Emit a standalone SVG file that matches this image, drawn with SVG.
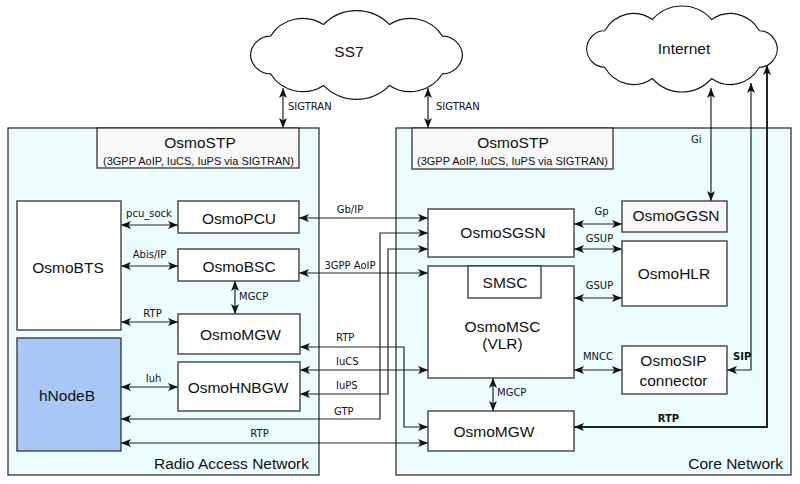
<svg xmlns="http://www.w3.org/2000/svg" width="800" height="484" viewBox="0 0 800 484">
<style>
.region{fill:#ebfdfe;stroke:#333;stroke-width:1.3}
.box{fill:#fff;stroke:#333;stroke-width:1.3}
.stp{fill:#f8f8f8;stroke:#333;stroke-width:1.3}
.hnb{fill:#a9c8f8;stroke:#333;stroke-width:1.3}
.cloud{fill:#fff;stroke:#111;stroke-width:1.2}
.n{font-family:"Liberation Sans",Arial,sans-serif;font-size:15.5px;fill:#111;text-anchor:middle}
.sub{font-family:"Liberation Sans",Arial,sans-serif;font-size:11px;fill:#111;text-anchor:middle}
.rl{font-family:"Liberation Sans",Arial,sans-serif;font-size:15.5px;fill:#111;text-anchor:end}
.l{font-family:"DejaVu Sans",sans-serif;font-size:10px;fill:#111}
.m{text-anchor:middle}
.b{font-weight:bold}
.c{fill:none;stroke:#222;stroke-width:1.2;marker-start:url(#ah);marker-end:url(#ah)}
.thick{stroke-width:2}
</style>
<defs>
<marker id="ah" markerUnits="userSpaceOnUse" markerWidth="11" markerHeight="9" refX="10" refY="4" orient="auto-start-reverse" viewBox="0 0 11 8">
<path d="M0,0 L10,4 L0,8 L2.5,4 z" fill="#111"/>
</marker>
<path id="cloudshape" d="M-106,0 A20,20 0 0 1 -86,-18.8 A38,38 0 0 1 -33,-30.4 A46,46 0 0 1 33,-30.4 A38,38 0 0 1 86,-18.8 A20,20 0 0 1 106,0 A20,20 0 0 1 86,18.8 A38,38 0 0 1 33,30.4 A46,46 0 0 1 -33,30.4 A38,38 0 0 1 -86,18.8 A20,20 0 0 1 -106,0 Z"/>
</defs>

<g id="regions">
<rect class="region" x="8" y="128" width="311" height="347"/>
<rect class="region" x="396" y="128" width="395" height="347"/>
<text class="rl" x="309" y="469">Radio Access Network</text>
<text class="rl" x="783" y="469">Core Network</text>
</g>

<g id="ss7">
<use href="#cloudshape" class="cloud" transform="translate(356.5,55)" vector-effect="non-scaling-stroke"/>
<text class="n" x="349" y="57">SS7</text>
</g>
<g id="internet">
<use href="#cloudshape" class="cloud" transform="translate(682,49) scale(0.9,0.97)"/>
<text class="n" x="684" y="54">Internet</text>
</g>

<g id="connectors">
<path class="c" d="M283,88 V128"/>
<path class="c" d="M428,88 V128"/>
<path class="c" d="M711,88 V201"/>
<path class="c" d="M751,83 V370 H727"/>
<path class="c thick" d="M767,65 V427 H574"/>
<path class="c" d="M121,225 H178"/>
<path class="c" d="M121,266 H178"/>
<path class="c" d="M121,322 H178"/>
<path class="c" d="M235,281 V314"/>
<path class="c" d="M121,387 H178"/>
<path class="c" d="M299,218 H428"/>
<path class="c" d="M299,273 H428"/>
<path class="c" d="M300,347 H404 V427 H428"/>
<path class="c" d="M300,370 H428"/>
<path class="c" d="M300,394 H388 V249 H428"/>
<path class="c" d="M121,419 H380 V233 H428"/>
<path class="c" d="M121,443 H428"/>
<path class="c" d="M574,224 H622"/>
<path class="c" d="M574,249 H622"/>
<path class="c" d="M574,298 H622"/>
<path class="c" d="M574,370 H622"/>
<path class="c" d="M493,378 V411"/>
<text class="l" x="288" y="110">SIGTRAN</text>
<text class="l" x="436" y="110">SIGTRAN</text>
<text class="l" x="691" y="143">Gi</text>
<text class="l b" x="733" y="360">SIP</text>
<text class="l b m" x="668.5" y="422">RTP</text>
<text class="l m" x="149" y="217">pcu_sock</text>
<text class="l m" x="149.5" y="258">Abis/IP</text>
<text class="l m" x="152.5" y="317">RTP</text>
<text class="l" x="239" y="300">MGCP</text>
<text class="l m" x="153.5" y="382">Iuh</text>
<text class="l m" x="350" y="213">Gb/IP</text>
<text class="l m" x="350" y="269">3GPP AoIP</text>
<text class="l" x="336" y="341">RTP</text>
<text class="l" x="336" y="365">IuCS</text>
<text class="l" x="336" y="389">IuPS</text>
<text class="l" x="334" y="415">GTP</text>
<text class="l m" x="259.5" y="437">RTP</text>
<text class="l m" x="601.5" y="215">Gp</text>
<text class="l m" x="599.5" y="242">GSUP</text>
<text class="l m" x="599.5" y="289">GSUP</text>
<text class="l m" x="598" y="360">MNCC</text>
<text class="l" x="497" y="396">MGCP</text>
</g>

<g id="stp-ran">
<rect class="stp" x="97" y="128" width="202" height="40"/>
<text class="n" x="200" y="148">OsmoSTP</text>
<text class="sub" x="198.5" y="165">(3GPP AoIP, IuCS, IuPS via SIGTRAN)</text>
</g>
<g id="stp-cn">
<rect class="stp" x="412" y="128" width="201" height="41"/>
<text class="n" x="513" y="148">OsmoSTP</text>
<text class="sub" x="512.5" y="165">(3GPP AoIP, IuCS, IuPS via SIGTRAN)</text>
</g>
<g id="osmobts">
<rect class="box" x="17" y="201" width="104" height="129"/>
<text class="n" x="68" y="273">OsmoBTS</text>
</g>
<g id="hnodeb">
<rect class="hnb" x="17" y="338" width="104" height="113"/>
<text class="n" x="67" y="401">hNodeB</text>
</g>
<g id="osmopcu">
<rect class="box" x="178" y="201" width="121" height="32"/>
<text class="n" x="239" y="224">OsmoPCU</text>
</g>
<g id="osmobsc">
<rect class="box" x="178" y="249" width="121" height="32"/>
<text class="n" x="239" y="272">OsmoBSC</text>
</g>
<g id="osmomgw-ran">
<rect class="box" x="178" y="314" width="122" height="40"/>
<text class="n" x="240.5" y="340">OsmoMGW</text>
</g>
<g id="osmohnbgw">
<rect class="box" x="178" y="362" width="122" height="49"/>
<text class="n" x="238" y="393">OsmoHNBGW</text>
</g>
<g id="osmosgsn">
<rect class="box" x="428" y="209" width="146" height="48"/>
<text class="n" x="503" y="238">OsmoSGSN</text>
</g>
<g id="osmomsc">
<rect class="box" x="428" y="266" width="146" height="112"/>
<text class="n" x="502.5" y="332">OsmoMSC</text>
<text class="n" x="502.5" y="349">(VLR)</text>
</g>
<g id="smsc">
<rect class="box" x="468" y="266" width="73" height="32"/>
<text class="n" x="505" y="288">SMSC</text>
</g>
<g id="osmoggsn">
<rect class="stp" x="622" y="201" width="105" height="31"/>
<text class="n" x="676" y="221">OsmoGGSN</text>
</g>
<g id="osmohlr">
<rect class="box" x="622" y="241" width="105" height="65"/>
<text class="n" x="674" y="279">OsmoHLR</text>
</g>
<g id="osmosip">
<rect class="box" x="622" y="346" width="105" height="48"/>
<text class="n" x="673.5" y="366">OsmoSIP</text>
<text class="n" x="673.5" y="386">connector</text>
</g>
<g id="osmomgw-cn">
<rect class="box" x="428" y="411" width="146" height="40"/>
<text class="n" x="494" y="437">OsmoMGW</text>
</g>
</svg>
